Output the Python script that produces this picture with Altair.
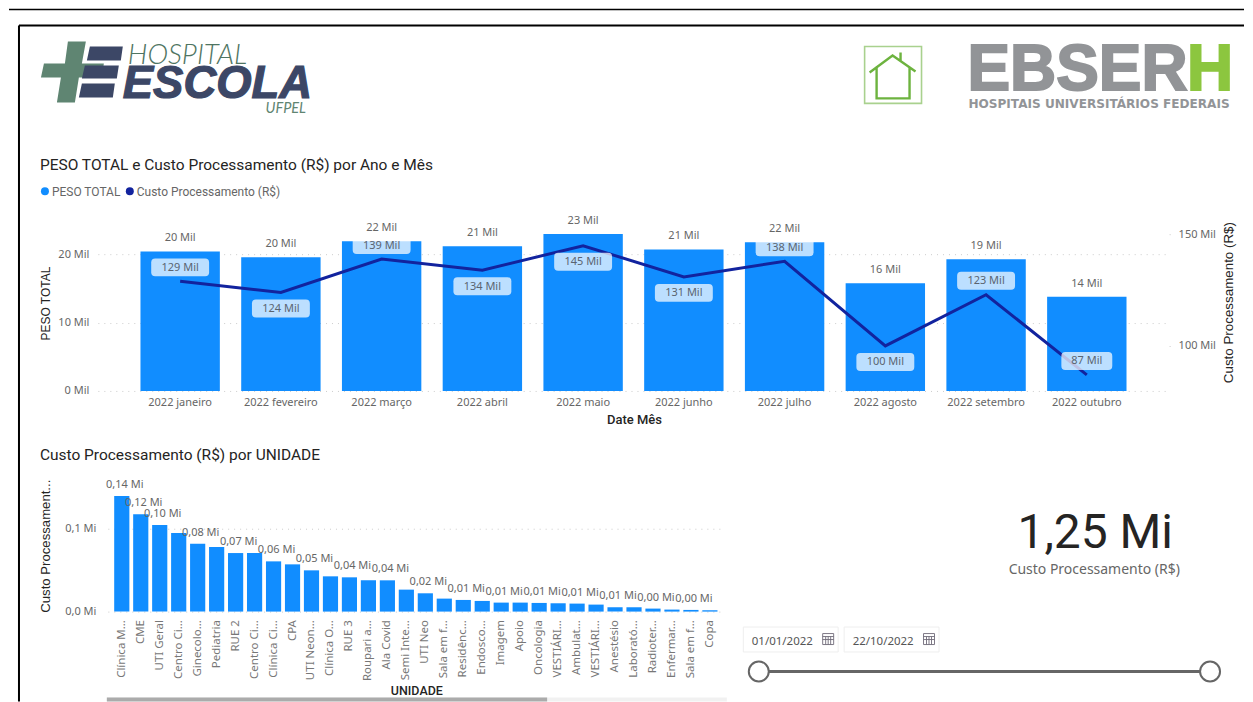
import json
import altair as alt

# ---------- data ----------
months = ["2022 janeiro", "2022 fevereiro", "2022 março", "2022 abril", "2022 maio",
          "2022 junho", "2022 julho", "2022 agosto", "2022 setembro", "2022 outubro"]
peso_total = [20.45, 19.6, 21.96, 21.2, 23.0, 20.75, 21.8, 15.8, 19.3, 13.8]
custo_mes = [129, 124, 139, 134, 145, 131, 138, 100, 123, 87]
label_side = ["above", "below", "above", "below", "below", "below", "above", "below", "above", "above"]

unidades = ["Clínica M...", "CME", "UTI Geral", "Centro Ci...", "Ginecolo...", "Pediatria", "RUE 2",
            "Centro Ci...", "Clínica Ci...", "CPA", "UTI Neon...", "Clínica O...", "RUE 3", "Roupari a...",
            "Ala Covid", "Semi Inte...", "UTI Neo", "Sala em f...", "Residênc...", "Endosco...", "Imagem",
            "Apoio", "Oncologia", "VESTIÁRI...", "Ambulat...", "VESTIÁRI...", "Anestésio", "Laborató...",
            "Radioter...", "Enfermar...", "Sala em f...", "Copa"]
custo_unidade = [0.139, 0.117, 0.104, 0.0944, 0.0816, 0.0776, 0.0704, 0.0704, 0.0604, 0.0568, 0.0496,
                 0.0424, 0.0412, 0.0376, 0.0376, 0.0264, 0.022, 0.0156, 0.014, 0.0128, 0.0108, 0.0108,
                 0.0104, 0.01, 0.0096, 0.0084, 0.0052, 0.0052, 0.0036, 0.0024, 0.002, 0.0016]

BLUE, NAVY = "#118DFF", "#12239E"
GREY = "#666666"
UI = "Noto Sans"
DIN = "Roboto"
SANS = "Liberation Sans"
ONE = alt.Data(values=[{}])


# ---------- decoration helpers: page pixel positions, shifted by the 8px page margin ----------
def txt(s, x, y, **props):
    props.setdefault("align", "left")
    props.setdefault("baseline", "middle")
    return alt.Chart(ONE).mark_text(**props).encode(
        x=alt.value(x - 8), y=alt.value(y - 8), text=alt.value(s))


def line(x1, y1, x2, y2, color, w):
    return alt.Chart(ONE).mark_rule(stroke=color, strokeWidth=w).encode(
        x=alt.value(x1 - 8), x2=alt.value(x2 - 8), y=alt.value(y1 - 8), y2=alt.value(y2 - 8))


def box(x1, y1, x2, y2, fill, stroke=None, r=0):
    kw = {"fill": fill, "cornerRadius": r}
    if stroke:
        kw.update(stroke=stroke, strokeWidth=1)
    return alt.Chart(ONE).mark_rect(**kw).encode(
        x=alt.value(x1 - 8), x2=alt.value(x2 - 8), y=alt.value(y1 - 8), y2=alt.value(y2 - 8))


def shape(path, fill=None, stroke=None, w=0):
    kw = {"shape": path, "size": 4, "opacity": 1, "strokeWidth": w}
    if fill:
        kw.update(filled=True, fill=fill)
    else:
        kw.update(filled=False)
    if stroke:
        kw["stroke"] = stroke
    return alt.Chart(ONE).mark_point(**kw).encode(x=alt.value(-8), y=alt.value(-8))


def dot(x, y, size, fill, stroke=None, w=0):
    kw = {"fill": fill, "opacity": 1, "size": size, "strokeWidth": w}
    if stroke:
        kw["stroke"] = stroke
    return alt.Chart(ONE).mark_circle(**kw).encode(x=alt.value(x - 8), y=alt.value(y - 8))


def spacer(w, h):
    return alt.Chart(ONE).mark_point(opacity=0).properties(width=w, height=h)


def calendar(x, y):
    p = f"M{x},{y} h11 v11 h-11 Z M{x},{y+3} h11 M{x},{y+6} h11 M{x+3},{y+3} v8 M{x+5.5},{y+3} v8 M{x+8},{y+3} v8"
    return shape(p, stroke="#6f6a78", w=0.9)


decor = [
    # frames
    line(8, 9, 1245, 9, "#000000", 1.5),
    line(18, 25, 1245, 25, "#000000", 2),
    line(18, 25, 18, 702, "#000000", 2),
    # hospital logo
    shape("M67,41 H85 L81,63 H103 L101,77 H78 L74,102 H56 L60,77 H40 L43,63 H64 Z", fill="#5F8572"),
    shape("M89,46 H122 L120,60 H86 Z M84,65 H118 L116,78 H81 Z M81,83 H114 L112,97 H78 Z", fill="#3C4766"),
    txt("HOSPITAL", 127, 56, font="Lato", fontSize=28, fontStyle="italic", fontWeight=300, color="#4F7562"),
    txt("ESCOLA", 122, 84, font=SANS, fontSize=45.5, fontStyle="italic", fontWeight="bold", color="#3C4766",
        stroke="#3C4766", strokeWidth=1.2),
    txt("UFPEL", 265, 108.5, font="Lato", fontSize=14.5, fontStyle="italic", color="#5F8572"),
    # house icon
    shape("M865,46 H922 V103 H865 Z", stroke="#A9D18E", w=1.6),
    shape("M870,72 L893,55 L916,71 M877,66 V98 H910 V66 M901,52 V60", stroke="#6DB33F", w=2.4),
    # EBSERH logo
    txt("EBSER", 968, 70.5, font=SANS, fontSize=64, fontWeight="bold", color="#929497", stroke="#929497", strokeWidth=2),
    txt("H", 1188, 70.5, font=SANS, fontSize=64, fontWeight="bold", color="#8CC63F", stroke="#8CC63F", strokeWidth=2),
    txt("HOSPITAIS UNIVERSITÁRIOS FEDERAIS", 969, 103.5, font="DejaVu Sans", fontSize=12.1, fontWeight="bold",
        color="#929497"),
    # top chart title and legend
    txt("PESO TOTAL e Custo Processamento (R$) por Ano e Mês", 39, 164.5, font=DIN, fontSize=15.5, color="#252423"),
    dot(44, 191, 64, BLUE),
    txt("PESO TOTAL", 51, 191.5, font=DIN, fontSize=12, color=GREY),
    dot(129, 191, 64, NAVY),
    txt("Custo Processamento (R$)", 136, 191.5, font=DIN, fontSize=12, color=GREY),
    # second chart title
    txt("Custo Processamento (R$) por UNIDADE", 39, 455, font=DIN, fontSize=15.5, color="#252423"),
    # scrollbar of the unit chart
    box(106, 698, 727, 702, "#F1F1F1"),
    box(106, 698, 547, 702, "#ABABAB"),
    # card
    txt("1,25 Mi", 1096, 534, align="center", font=DIN, fontSize=48, color="#252423"),
    txt("Custo Processamento (R$)", 1095, 570.5, align="center", font=UI, fontSize=14, color=GREY),
    # date slicer
    box(743.5, 627.5, 838.5, 652.5, "#FFFFFF", stroke="#EEEEEE"),
    box(844.5, 627.5, 939.5, 652.5, "#FFFFFF", stroke="#EEEEEE"),
    txt("01/01/2022", 752, 642, font=UI, fontSize=11.5, color="#555555"),
    txt("22/10/2022", 853, 642, font=UI, fontSize=11.5, color="#555555"),
    calendar(823, 634),
    calendar(924, 634),
    line(759, 672, 1211, 672, "#666666", 3),
    dot(759, 672, 400, "#FFFFFF", stroke="#666666", w=2),
    dot(1211, 672, 400, "#FFFFFF", stroke="#666666", w=2),
]
header = alt.layer(*decor).properties(width=1237, height=217)

# ---------- top combo chart ----------
month_data = alt.Data(values=[
    {"mes": m, "peso": p, "custo": c, "lado": s}
    for m, p, c, s in zip(months, peso_total, custo_mes, label_side)
])
x_month = alt.X("mes:N", sort=months,
                scale=alt.Scale(paddingInner=0.212, paddingOuter=0.423),
                axis=alt.Axis(title="Date Mês", titleFont=DIN, titleFontSize=13, titleFontWeight=500,
                              titleColor="#252423", titleX=537, titleY=23, labelFont=UI, labelFontSize=11,
                              labelColor=GREY, labelAngle=0, labelPadding=6, ticks=False, domain=False,
                              grid=False, labelOverlap=False))
y_left_scale = alt.Scale(domain=[0, 24.3], nice=False, zero=True)
y_right_scale = alt.Scale(domain=[79.8, 154.2], nice=False, zero=False)
y_left_axis = alt.Axis(title="PESO TOTAL", titleFont=SANS, titleFontSize=12, titleFontWeight="normal",
                       titleColor="#252423", titleX=-45, titleY=78, titleAngle=-90,
                       values=[0, 10, 20], labelExpr="datum.value + ' Mil'", labelFont=UI, labelFontSize=11,
                       labelColor=GREY, labelPadding=9, ticks=False, domain=False, grid=True,
                       gridColor="#CCCCCC", gridDash=[1, 5], gridWidth=1)
y_right_axis = alt.Axis(orient="right", title="Custo Processamento (R$)", titleFont=SANS, titleFontSize=13.4,
                        titleFontWeight="normal", titleColor="#252423", titleX=66, titleY=77, titleAngle=-90,
                        values=[100, 150], labelExpr="datum.value + ' Mil'", labelFont=UI, labelFontSize=11,
                        labelColor=GREY, labelPadding=6, ticks=True, tickSize=3, tickColor="#CCCCCC",
                        tickDash=[1, 2], domain=False, grid=False)
y_left = alt.Y("peso:Q", scale=y_left_scale, axis=y_left_axis)
y_right = alt.Y("custo:Q", scale=y_right_scale, axis=y_right_axis)

bars = alt.Chart(month_data).mark_bar(color=BLUE).encode(x=x_month, y=y_left)
bar_text = alt.Chart(month_data).transform_calculate(
    t="format(datum.peso, '.0f') + ' Mil'"
).mark_text(font=UI, fontSize=11, color=GREY, dy=-13).encode(
    x=alt.X("mes:N", sort=months), y=y_left, text="t:N")
trend = alt.Chart(month_data).mark_line(color=NAVY, strokeWidth=3).encode(
    x=alt.X("mes:N", sort=months), y=y_right)


def pill(half):
    return (f"M{-half + 4},-9 H{half - 4} Q{half},-9 {half},-5 V5 Q{half},9 {half - 4},9 "
            f"H{-half + 4} Q{-half},9 {-half},5 V-5 Q{-half},-9 {-half + 4},-9 Z")


pill_layers = []
for side, off in (("above", -14), ("below", 16)):
    for cond, half in (("datum.custo >= 100", 29), ("datum.custo < 100", 25.5)):
        pill_layers.append(
            alt.Chart(month_data).transform_filter(f"datum.lado == '{side}' && {cond}")
            .mark_point(shape=pill(half), size=4, filled=True, fill="#FFFFFF", opacity=0.72, strokeWidth=0,
                        yOffset=off)
            .encode(x=alt.X("mes:N", sort=months), y=y_right))
    pill_layers.append(
        alt.Chart(month_data).transform_filter(f"datum.lado == '{side}'")
        .transform_calculate(t="datum.custo + ' Mil'")
        .mark_text(font=UI, fontSize=11, color="#5A6470", dy=off + 0.5)
        .encode(x=alt.X("mes:N", sort=months), y=y_right, text="t:N"))

left_layer = alt.layer(bars, bar_text)
right_layer = alt.layer(trend, *pill_layers)
combo = alt.layer(left_layer, right_layer).resolve_scale(y="independent").properties(width=1073, height=166)

# ---------- bottom bar chart ----------
unit_data = alt.Data(values=[{"rank": i, "custo": v} for i, v in enumerate(custo_unidade)])
y_unit = alt.Y("custo:Q", scale=alt.Scale(domain=[0, 0.1609], nice=False),
               axis=alt.Axis(title="Custo Processament...", titleFont=SANS, titleFontSize=13.2,
                             titleFontWeight="normal", titleColor="#252423", titleX=-55, titleY=68, titleAngle=-90,
                             values=[0, 0.1], labelExpr="replace(format(datum.value, '.1f'), '.', ',') + ' Mi'",
                             labelFont=UI, labelFontSize=11, labelColor=GREY, labelPadding=12, ticks=False,
                             domain=False, grid=True, gridColor="#CCCCCC", gridDash=[1, 5], gridWidth=1))
unit_bars = alt.Chart(unit_data).mark_bar(color=BLUE).encode(
    x=alt.X("rank:O", scale=alt.Scale(paddingInner=0.2, paddingOuter=0.335),
            axis=alt.Axis(title="UNIDADE", titleFont=DIN, titleFontSize=12.5, titleFontWeight=500,
                          titleColor="#252423", titleX=309, titleY=73.5,
                          labelExpr=f"{json.dumps(unidades, ensure_ascii=False)}[datum.value]",
                          labelAngle=-90, labelFont=UI, labelFontSize=11.5, labelColor="#777777", labelPadding=8,
                          labelOverlap=False, labelLimit=200, ticks=False, domain=False, grid=False)),
    y=y_unit)
unit_text = alt.Chart(unit_data).transform_filter(
    "datum.rank < 3 || datum.rank % 2 == 0"
).transform_calculate(
    t="replace(format(datum.custo, '.2f'), '.', ',') + ' Mi'"
).mark_text(font=UI, fontSize=11, color=GREY, dy=-11, dx=3).encode(
    x=alt.X("rank:O"), y=y_unit, text="t:N")
unit_chart = alt.layer(unit_bars, unit_text).properties(width=617, height=134)

# ---------- page ----------
# a nested flush concat takes no height of its own, so the spacer covers the combo row as well
row2 = alt.hconcat(spacer(89, 166), combo, spacing=0, bounds="flush")
row3 = alt.hconcat(spacer(99, 134), unit_chart, spacing=0, bounds="flush")
chart = alt.vconcat(header, row2, spacer(10, 253), row3, spacing=0, bounds="flush").properties(
    padding=0, background="#FFFFFF"
).configure_view(stroke=None).configure_concat(spacing=0)

chart.save("out.html", embed_options={"renderer": "svg", "actions": False})
